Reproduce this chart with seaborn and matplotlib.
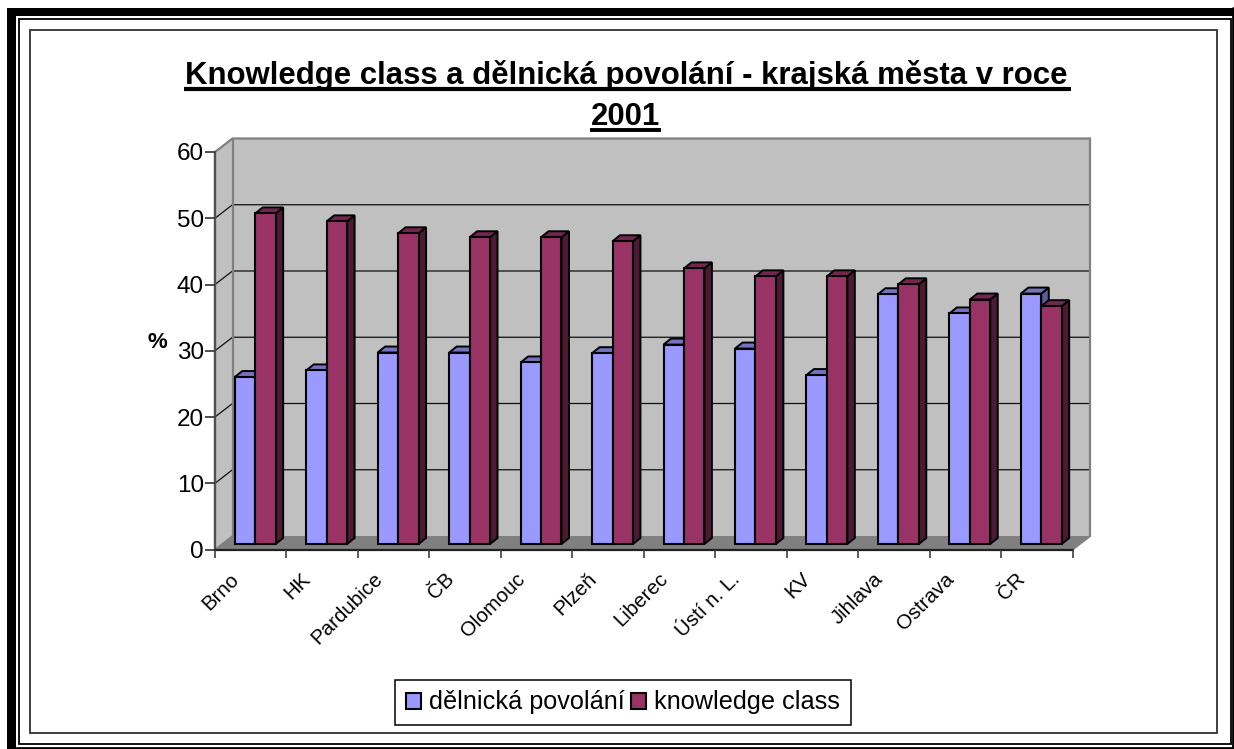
import matplotlib
matplotlib.use("Agg")
import matplotlib.pyplot as plt
import seaborn as sns
import pandas as pd
from matplotlib.patches import Polygon, Rectangle, Patch
from matplotlib.transforms import ScaledTranslation, IdentityTransform

cities = ["Brno", "HK", "Pardubice", "ČB", "Olomouc", "Plzeň", "Liberec",
          "Ústí n. L.", "KV", "Jihlava", "Ostrava", "ČR"]
workers = [25.2, 26.2, 28.9, 28.9, 27.4, 28.8, 30.1, 29.5, 25.5, 37.7, 34.8, 37.8]
knowledge = [49.9, 48.7, 46.9, 46.3, 46.3, 45.7, 41.6, 40.4, 40.4, 39.2, 36.9, 35.9]
series_names = ["dělnická povolání", "knowledge class"]
title_lines = ["Knowledge class a dělnická povolání - krajská města v roce", "2001"]
y_ticks = [0, 10, 20, 30, 40, 50, 60]

BLUE, BLUE_TOP, BLUE_SIDE = "#9999FF", "#7373BF", "#5C5C99"
RED, RED_TOP, RED_SIDE = "#993366", "#732650", "#4D1A33"
WALL, FLOOR, EDGE = "#C0C0C0", "#808080", "#808080"

W, H = 1234, 749
sns.set_style("white")
plt.rcParams["font.family"] = ["Liberation Sans", "DejaVu Sans"]

fig = plt.figure(figsize=(W / 100, H / 100), dpi=100, facecolor="white")

# plot plane (front face of the 3-D box)
X0, X1, Y0, Y1 = 215.0, 1072.5, 549.5, 152.0
DX, DY = 17.5, 13.5          # depth of the box
BX, BY = 4.5, 5.5            # shift of the bars from the front plane
DEPTH_X, DEPTH_Y = 7.5, 6.0  # depth of a bar

bg = fig.add_axes([0, 0, 1, 1], zorder=0)
bg.set_xlim(0, W)
bg.set_ylim(H, 0)
bg.axis("off")

ax = fig.add_axes([X0 / W, (H - Y0) / H, (X1 - X0) / W, (Y0 - Y1) / H], zorder=1)
ax.patch.set_visible(False)

df = pd.DataFrame({
    "city": cities * 2,
    "value": workers + knowledge,
    "series": [series_names[0]] * len(cities) + [series_names[1]] * len(cities),
})
sns.barplot(data=df, x="city", y="value", hue="series", order=cities,
            hue_order=series_names, palette=[BLUE, RED], width=0.572, gap=0,
            dodge=True, legend=False, errorbar=None, saturation=1,
            edgecolor="black", linewidth=1.5, ax=ax)
ax.set_xlim(-0.5, len(cities) - 0.5)
ax.set_ylim(0, 60)
ax.set_yticks(y_ticks)
ax.set_xlabel("")
ax.set_ylabel("")
for s in ax.spines.values():
    s.set_visible(False)

ax.set_xticks([i - 0.5 for i in range(len(cities) + 1)], minor=True)
ax.tick_params(axis="x", which="minor", length=6, width=1.2, color="#404040", bottom=True)
ax.tick_params(axis="x", which="major", length=0, pad=15)
ax.tick_params(axis="y", length=7, width=1.2, color="#303030", labelsize=17.5, pad=1, left=True,
               labelcolor="black")
ax.set_xticks(range(len(cities)))
ax.set_xticklabels(cities, rotation=45, ha="right", va="top", rotation_mode="anchor",
                   fontsize=14.8, color="black")
label_shift = ScaledTranslation(-21 / 100, 1 / 100, fig.dpi_scale_trans)
for lab in ax.get_xticklabels():
    lab.set_transform(lab.get_transform() + label_shift)

# --- box: walls and floor, gridlines from the y ticks
def ypx(v):
    return H - ax.transData.transform((0, v))[1]

bg.add_patch(Polygon([(X0, Y1), (X0 + DX, Y1 - DY), (X1 + DX, Y1 - DY), (X1 + DX, Y0 - DY),
                      (X0 + DX, Y0 - DY), (X0, Y0)], fc=WALL, ec="none", zorder=1))
bg.add_patch(Polygon([(X0, Y0), (X0 + DX, Y0 - DY), (X1 + DX, Y0 - DY), (X1, Y0)],
                     fc=FLOOR, ec="none", zorder=1))
for v in y_ticks[1:-1]:
    y = ypx(v)
    bg.plot([X0, X0 + DX, X1 + DX], [y, y - DY, y - DY], color="#101010", lw=0.9, zorder=2)
bg.plot([X0, X0, X0 + DX, X1 + DX, X1 + DX, X1], [Y0, Y1, Y1 - DY, Y1 - DY, Y0 - DY, Y0],
        color=EDGE, lw=1.6, zorder=2, solid_joinstyle="miter")
bg.plot([X0 + DX, X0 + DX], [Y1 - DY, Y0 - DY], color=EDGE, lw=1.6, zorder=2)
bg.plot([X0, X0 + DX], [Y0, Y0 - DY], color=EDGE, lw=1.2, zorder=2)
bg.plot([X0, X0], [Y0, Y1], color="#505050", lw=1.6, zorder=3)
bg.plot([X0, X1], [Y0, Y0], color="#202020", lw=1.6, zorder=3)

# --- bars: shift the seaborn bars and add the top and side faces
fig.canvas.draw()
shift = ScaledTranslation(BX / 100, BY / 100, fig.dpi_scale_trans)
bars = list(ax.patches)
n = len(cities)
for k, p in enumerate(bars):
    x, w, h = p.get_x(), p.get_width(), p.get_height()
    (xl, yb) = ax.transData.transform((x, 0))
    (xr, yt) = ax.transData.transform((x + w, h))
    xl += BX; xr += BX; yb += BY; yt += BY
    top_c, side_c = (BLUE_TOP, BLUE_SIDE) if k < n else (RED_TOP, RED_SIDE)
    col = k % n
    z = 2 + col * 3 + (0 if k < n else 1.5)
    p.set_transform(ax.transData + shift)
    p.set_clip_on(False)
    p.set_zorder(z + 1)
    for pts, c in (([(xr, yb), (xr + DEPTH_X, yb + DEPTH_Y), (xr + DEPTH_X, yt + DEPTH_Y), (xr, yt)], side_c),
                   ([(xl, yt), (xl + DEPTH_X, yt + DEPTH_Y), (xr + DEPTH_X, yt + DEPTH_Y), (xr, yt)], top_c)):
        ax.add_patch(Polygon(pts, closed=True, fc=c, ec="black", lw=1.4, zorder=z,
                             transform=IdentityTransform(), clip_on=False, joinstyle="miter"))

# --- title with underlines, axis label
bg.text(626, 84, title_lines[0], ha="center", va="baseline", fontsize=22.4, fontweight="bold", color="black", zorder=5)
bg.plot([184, 1071], [88.8, 88.8], color="black", lw=3.0, solid_capstyle="butt", zorder=5)
bg.text(625.5, 125, title_lines[1], ha="center", va="baseline", fontsize=22.4, fontweight="bold", color="black", zorder=5)
bg.plot([590, 661], [130, 130], color="black", lw=2.8, solid_capstyle="butt", zorder=5)
bg.text(157, 342, "%", ha="center", va="center", fontsize=16, fontweight="bold", color="black", zorder=5)

# --- legend
handles = [Patch(fc=BLUE, ec="black", lw=1.5), Patch(fc=RED, ec="black", lw=1.5)]
leg = fig.legend(handles, series_names, loc="center", bbox_to_anchor=(622.7 / W, (H - 702.5) / H),
                 ncol=2, frameon=True, fancybox=False, edgecolor="black", facecolor="white",
                 framealpha=1, fontsize=18.2, handlelength=0.6, handleheight=0.6,
                 handletextpad=0.32, columnspacing=0.23, borderpad=0.43, borderaxespad=0,
                 labelcolor="black")
leg.get_frame().set_linewidth(1.1)
leg.set_zorder(6)

# --- page frame
bg.add_patch(Rectangle((7, 8), 9, 741, fc="black", ec="none", zorder=6))
bg.add_patch(Rectangle((7, 8), 1227, 8, fc="black", ec="none", zorder=6))
bg.add_patch(Rectangle((19, 19), 1211.5, 725, fc="none", ec="black", lw=1.3, zorder=6))
bg.plot([1233, 1233], [8, 748], color="black", lw=2.0, zorder=6)
bg.plot([16, 1233], [747.5, 747.5], color="black", lw=2.0, zorder=6)
bg.add_patch(Rectangle((29.5, 29.5), 1187.5, 703.5, fc="none", ec="#303030", lw=1.3, zorder=6))

fig.savefig("out.png", dpi=100)
